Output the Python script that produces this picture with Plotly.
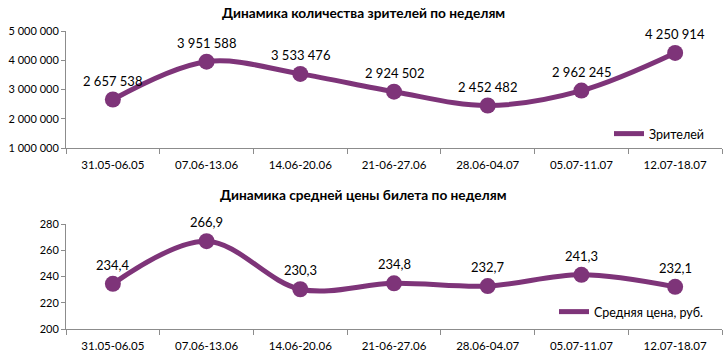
import plotly.graph_objects as go

weeks = ["31.05-06.05", "07.06-13.06", "14.06-20.06", "21-06-27.06",
         "28.06-04.07", "05.07-11.07", "12.07-18.07"]
viewers = [2657538, 3951588, 3533476, 2924502, 2452482, 2962245, 4250914]
viewer_labels = ["2 657 538", "3 951 588", "3 533 476", "2 924 502",
                 "2 452 482", "2 962 245", "4 250 914"]
price = [234.4, 266.9, 230.3, 234.8, 232.7, 241.3, 232.1]
price_labels = ["234,4", "266,9", "230,3", "234,8", "232,7", "241,3", "232,1"]
viewer_ticks = [1000000, 2000000, 3000000, 4000000, 5000000]
viewer_tick_text = ["1 000 000", "2 000 000", "3 000 000", "4 000 000", "5 000 000"]
price_ticks = [200, 220, 240, 260, 280]

COLOR = "#7E3479"
FONT = "Lato, 'Open Sans', sans-serif"
W = 725.0
H = 358.0

def px_(x):
    return x / W

def py(y):
    return 1 - y / H

fig = go.Figure()

fig.add_trace(go.Scatter(
    x=weeks, y=viewers, mode="lines+markers",
    line=dict(color=COLOR, width=5, shape="spline", smoothing=1),
    marker=dict(color=COLOR, size=16),
    xaxis="x", yaxis="y", showlegend=False, cliponaxis=False,
))
fig.add_trace(go.Scatter(
    x=[None], y=[None], mode="lines", name="Зрителей",
    line=dict(color=COLOR, width=5), xaxis="x", yaxis="y",
    legend="legend",
))
fig.add_trace(go.Scatter(
    x=weeks, y=price, mode="lines+markers",
    line=dict(color=COLOR, width=5, shape="spline", smoothing=1),
    marker=dict(color=COLOR, size=16),
    xaxis="x2", yaxis="y2", showlegend=False, cliponaxis=False,
))
fig.add_trace(go.Scatter(
    x=[None], y=[None], mode="lines", name="Средняя цена, руб.",
    line=dict(color=COLOR, width=5), xaxis="x2", yaxis="y2",
    legend="legend2",
))

xdom = [px_(66), px_(722)]
xcommon = dict(
    domain=xdom, type="category", range=[-0.5, 6.5],
    showline=True, linecolor="#8c8c8c", linewidth=1,
    ticks="outside", tickson="boundaries", ticklen=5, tickcolor="#8c8c8c",
    showgrid=False, zeroline=False, fixedrange=True, automargin=False,
    ticklabelstandoff=6,
    tickfont=dict(size=11.5, color="#000000"),
)
ycommon = dict(
    showline=True, linecolor="#8c8c8c", linewidth=1,
    ticks="outside", ticklen=4, tickcolor="#8c8c8c",
    showgrid=False, zeroline=False, fixedrange=True, automargin=False,
    tickfont=dict(size=11, color="#000000"),
)

annotations = [
    dict(text="<b>Динамика количества зрителей по неделям</b>",
         x=px_(363), y=py(13), xref="paper", yref="paper",
         xanchor="center", yanchor="middle", showarrow=False,
         font=dict(size=13.7)),
    dict(text="<b>Динамика средней цены билета по неделям</b>",
         x=px_(363), y=py(194), xref="paper", yref="paper",
         xanchor="center", yanchor="middle", showarrow=False,
         font=dict(size=13.7)),
]
for wk, v, lab in zip(weeks, viewers, viewer_labels):
    annotations.append(dict(text=lab, x=wk, y=v, xref="x", yref="y",
                            showarrow=False, yshift=19, xanchor="center",
                            yanchor="middle", font=dict(size=13)))
for wk, v, lab in zip(weeks, price, price_labels):
    annotations.append(dict(text=lab, x=wk, y=v, xref="x2", yref="y2",
                            showarrow=False, yshift=19, xanchor="center",
                            yanchor="middle", font=dict(size=13)))

fig.update_layout(
    width=W, height=H,
    margin=dict(l=0, r=0, t=0, b=0, autoexpand=False),
    paper_bgcolor="white", plot_bgcolor="white",
    font=dict(family=FONT, color="#000000"),
    hovermode=False,
    xaxis=dict(**xcommon, anchor="y"),
    yaxis=dict(**ycommon, domain=[py(148), py(31)], range=[1000000, 5000000],
               tickvals=viewer_ticks, ticktext=viewer_tick_text, anchor="x"),
    xaxis2=dict(**xcommon, anchor="y2"),
    yaxis2=dict(**ycommon, domain=[py(329), py(224)], range=[200, 280],
                tickvals=price_ticks, anchor="x2"),
    legend=dict(x=px_(609), y=py(134), xanchor="left", yanchor="middle",
                font=dict(size=12.5), bgcolor="rgba(0,0,0,0)", itemwidth=30),
    legend2=dict(x=px_(554), y=py(312), xanchor="left", yanchor="middle",
                 font=dict(size=12.5), bgcolor="rgba(0,0,0,0)", itemwidth=30),
    annotations=annotations,
)

fig.write_html(
    "out.html",
    config={"displayModeBar": False, "staticPlot": True},
    post_script="document.body.style.margin='0';document.body.style.padding='0';",
)
